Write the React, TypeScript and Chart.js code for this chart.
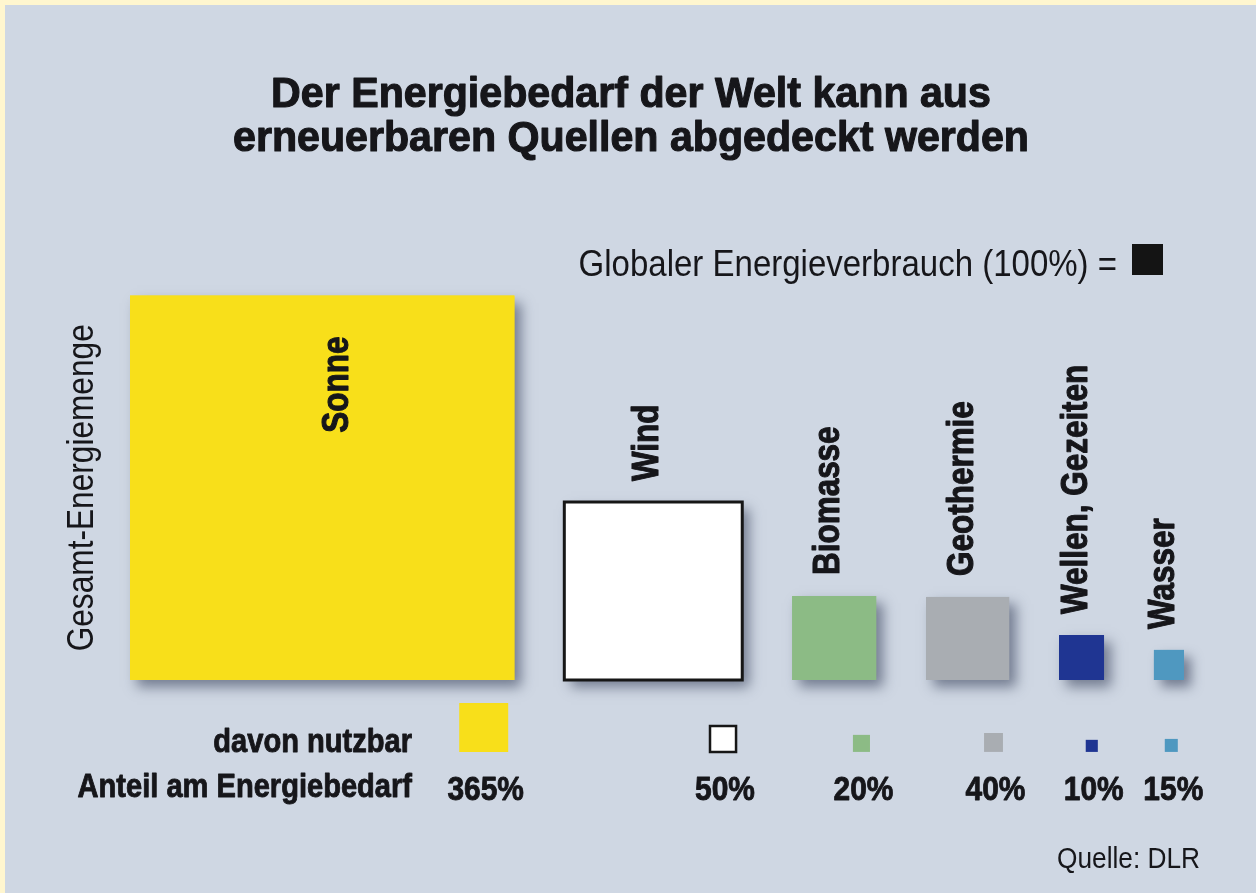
import React, { useEffect, useRef } from "react";
import { Chart, registerables } from "chart.js";

Chart.register(...registerables);

// ---- data (side lengths relative to the square of global energy consumption = 1) ----
const categories = ["Sonne", "Wind", "Biomasse", "Geothermie", "Wellen, Gezeiten", "Wasser"];
const totalSide = [12.4, 5.74, 2.71, 2.68, 1.45, 0.97];
const usableSide = [1.58, 0.84, 0.55, 0.61, 0.39, 0.42];
const shareLabels = ["365%", "50%", "20%", "40%", "10%", "15%"];
const fillColors = ["#f8df1a", "#ffffff", "#8cbb85", "#a9adb2", "#1f3592", "#4f98c0"];
const outlineColors = ["#f8df1a", "#161616", "#8cbb85", "#a9adb2", "#1f3592", "#4f98c0"];
const outlineWidths = [0, 3, 0, 0, 0, 0];
const referenceSide = 1;

const titleLines = ["Der Energiebedarf der Welt kann aus", "erneuerbaren Quellen abgedeckt werden"];
const legendText = "Globaler Energieverbrauch (100%) =";
const axisTitle = "Gesamt-Energiemenge";
const rowLabels = ["davon nutzbar", "Anteil am Energiebedarf"];
const sourceText = "Quelle: DLR";

// layout helpers (units = reference square side)
const GAP = 1.61;
const USABLE_BASE = -2.32;
const USABLE_INSET = 0.2;

const lefts: number[] = [];
{
  let acc = 0;
  totalSide.forEach((s) => {
    lefts.push(acc);
    acc += s + GAP;
  });
}

const FAMILY = '"Liberation Sans", Arial, sans-serif';
const INK = "#16161a";

type Style = { size: number; bold: boolean; sx: number; heavy?: number };
const TITLE: Style = { size: 42, bold: true, sx: 0.98, heavy: 1.1 };
const LEGEND: Style = { size: 37.5, bold: false, sx: 0.88 };
const AXIS: Style = { size: 37, bold: false, sx: 0.855 };
const CAT: Style = { size: 37, bold: true, sx: 0.85, heavy: 1.1 };
const ROW: Style = { size: 34, bold: true, sx: 0.855, heavy: 0.9 };
const PCT: Style = { size: 34, bold: true, sx: 0.88, heavy: 0.9 };
const SRC: Style = { size: 30, bold: false, sx: 0.875 };

function fontOf(s: Style) {
  return `${s.bold ? "bold " : ""}${s.size}px ${FAMILY}`;
}

function drawText(
  ctx: CanvasRenderingContext2D,
  text: string,
  x: number,
  y: number,
  s: Style,
  align: CanvasTextAlign,
  baseline: CanvasTextBaseline,
  rot = 0
) {
  ctx.save();
  ctx.translate(x, y);
  if (rot) ctx.rotate(rot);
  ctx.scale(s.sx, 1);
  ctx.font = fontOf(s);
  ctx.textAlign = align;
  ctx.textBaseline = baseline;
  ctx.fillText(text, 0, 0);
  if (s.heavy) {
    ctx.strokeStyle = ctx.fillStyle as string;
    ctx.lineWidth = s.heavy;
    ctx.lineJoin = "round";
    ctx.strokeText(text, 0, 0);
  }
  ctx.restore();
}

function textWidth(ctx: CanvasRenderingContext2D, text: string, s: Style) {
  ctx.save();
  ctx.font = fontOf(s);
  const w = ctx.measureText(text).width * s.sx;
  ctx.restore();
  return w;
}

function sidePx(chart: any, v: number) {
  const y = chart.scales.y;
  return Math.abs(y.getPixelForValue(v) - y.getPixelForValue(0));
}

// soft drop shadow under the big squares (drawn beneath the library's points)
const shadowPlugin = {
  id: "squareShadow",
  beforeDatasetDraw(chart: any, args: any) {
    if (args.index !== 0) return;
    const ctx = chart.ctx;
    const meta = chart.getDatasetMeta(0);
    ctx.save();
    ctx.shadowColor = "rgba(55,65,90,0.6)";
    ctx.shadowBlur = 12;
    ctx.shadowOffsetX = 7;
    ctx.shadowOffsetY = 7;
    meta.data.forEach((el: any, i: number) => {
      const s = sidePx(chart, totalSide[i]);
      ctx.fillStyle = fillColors[i];
      ctx.fillRect(el.x - s / 2, el.y - s / 2, s, s);
    });
    ctx.restore();
  },
};

const textPlugin = {
  id: "infographicText",
  afterDraw(chart: any) {
    const ctx = chart.ctx;
    const ys = chart.scales.y;
    const area = chart.chartArea;
    ctx.save();
    ctx.fillStyle = INK;

    // title
    drawText(ctx, titleLines[0], 631, 107, TITLE, "center", "alphabetic");
    drawText(ctx, titleLines[1], 631, 151, TITLE, "center", "alphabetic");

    // legend: text + reference square
    const refPx = sidePx(chart, referenceSide);
    const legRight = 1117;
    drawText(ctx, legendText, legRight, 276, LEGEND, "right", "alphabetic");
    ctx.fillStyle = "#141414";
    ctx.fillRect(legRight + 15, 275 - refPx, refPx, refPx);
    ctx.fillStyle = INK;

    // axis title (rotated)
    const maxSide = Math.max(...totalSide);
    drawText(ctx, axisTitle, area.left - 47, ys.getPixelForValue(maxSide / 2), AXIS, "center", "middle", -Math.PI / 2);

    // category labels
    const meta = chart.getDatasetMeta(0);
    meta.data.forEach((el: any, i: number) => {
      const half = sidePx(chart, totalSide[i]) / 2;
      const top = el.y - half;
      const w = textWidth(ctx, categories[i], CAT);
      const inside = top - 20 - w < area.top;
      drawText(
        ctx,
        categories[i],
        el.x + (inside ? 16 : -5),
        inside ? top + 41 : top - 21,
        CAT,
        inside ? "right" : "left",
        "middle",
        -Math.PI / 2
      );
    });

    // row labels
    const baseRow1 = ys.getPixelForValue(USABLE_BASE);
    const baseRow2 = baseRow1 + 45;
    drawText(ctx, rowLabels[0], 412, baseRow1, ROW, "right", "alphabetic");
    drawText(ctx, rowLabels[1], 412, baseRow2, ROW, "right", "alphabetic");

    // share labels
    const meta2 = chart.getDatasetMeta(1);
    meta2.data.forEach((el: any, i: number) => {
      drawText(ctx, shareLabels[i], el.x + 2, baseRow2 + 3, PCT, "center", "alphabetic");
    });

    // source
    drawText(ctx, sourceText, 1200, 868, SRC, "right", "alphabetic");
    ctx.restore();
  },
};

export default function App() {
  const ref = useRef<HTMLCanvasElement | null>(null);
  useEffect(() => {
    if (!ref.current) return;
    const chart = new Chart(ref.current, {
      type: "scatter",
      data: {
        datasets: [
          {
            label: "Gesamt-Energiemenge",
            data: totalSide.map((s, i) => ({ x: lefts[i] + s / 2, y: s / 2 })),
            pointStyle: "rect",
            pointRadius: (c: any) => sidePx(c.chart, totalSide[c.dataIndex]) / Math.SQRT2,
            pointHoverRadius: (c: any) => sidePx(c.chart, totalSide[c.dataIndex]) / Math.SQRT2,
            backgroundColor: fillColors,
            borderColor: outlineColors,
            borderWidth: outlineWidths,
            clip: false,
          } as any,
          {
            label: "davon nutzbar",
            data: usableSide.map((s, i) => ({
              x: lefts[i] + totalSide[i] - USABLE_INSET - s / 2,
              y: USABLE_BASE + s / 2,
            })),
            pointStyle: "rect",
            pointRadius: (c: any) => sidePx(c.chart, usableSide[c.dataIndex]) / Math.SQRT2,
            pointHoverRadius: (c: any) => sidePx(c.chart, usableSide[c.dataIndex]) / Math.SQRT2,
            backgroundColor: fillColors,
            borderColor: outlineColors,
            borderWidth: outlineWidths.map((w) => (w ? 2.5 : 0)),
            clip: false,
          } as any,
        ],
      },
      options: {
        animation: false,
        responsive: false,
        maintainAspectRatio: false,
        events: [],
        layout: { padding: { left: 130, right: 25.5, top: 246, bottom: 89 } },
        scales: {
          x: { type: "linear", min: 0, max: 35.5, display: false },
          y: { type: "linear", min: -4, max: 14, display: false },
        },
        plugins: {
          legend: { display: false },
          tooltip: { enabled: false },
          title: { display: false },
        },
      },
      plugins: [shadowPlugin, textPlugin],
    });
    return () => chart.destroy();
  }, []);

  return (
    <div
      style={{
        position: "fixed",
        left: 0,
        top: 0,
        width: 1256,
        height: 893,
        background: "#fff6cf",
        overflow: "hidden",
      }}
    >
      <div
        style={{
          position: "absolute",
          left: 5,
          top: 5,
          right: 0,
          bottom: 0,
          background: "#cfd7e3",
        }}
      />
      <canvas
        ref={ref}
        width={1256}
        height={893}
        style={{ position: "absolute", left: 0, top: 0, width: 1256, height: 893 }}
      />
    </div>
  );
}
